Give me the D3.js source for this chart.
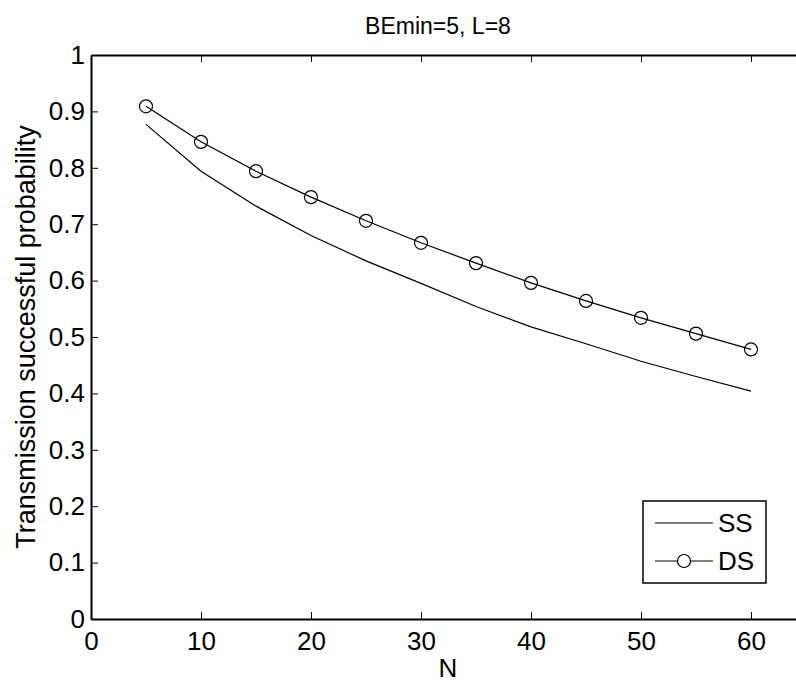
<!DOCTYPE html>
<html>
<head>
<meta charset="utf-8">
<script src="https://cdn.jsdelivr.net/npm/d3@7"></script>
<style>
  body { margin: 0; background: #fff; }
  svg text { font-family: "Liberation Sans", Arial, sans-serif; }
</style>
</head>
<body>
<div id="chart"></div>
<script>
'use strict';

// data
const nValues  = [5, 10, 15, 20, 25, 30, 35, 40, 45, 50, 55, 60]
const ssValues = [0.877, 0.794, 0.732, 0.680, 0.635, 0.595, 0.554, 0.518, 0.488, 0.457, 0.430, 0.404]
const dsValues = [0.909, 0.846, 0.794, 0.748, 0.706, 0.667, 0.631, 0.596, 0.564, 0.534, 0.506, 0.478]
const xTicks   = [0, 10, 20, 30, 40, 50, 60]
const yTicks   = [0, 0.1, 0.2, 0.3, 0.4, 0.5, 0.6, 0.7, 0.8, 0.9, 1]

const width    = 796
const height   = 682
const padLeft  = 91
const padRight = 806   // plot runs past the window edge
const padTop   = 55
const padBot   = 619
const tickLen  = 7
const fontSize = 26

var svg = d3.select('#chart').append('svg')
    .attr('width', width)
    .attr('height', height)

var x = d3.scaleLinear().domain([0, 65]).range([padLeft, padRight])
var y = d3.scaleLinear().domain([0, 1]).range([padBot, padTop])

// axes
var xAxis = svg.append('g')
    .attr('transform', 'translate(0,' + padBot + ')')
    .call(d3.axisBottom(x).tickValues(xTicks).tickSizeInner(-tickLen).tickSizeOuter(0).tickPadding(13).tickFormat(d3.format('d')))
var xTop = svg.append('g')
    .attr('transform', 'translate(0,' + padTop + ')')
    .call(d3.axisTop(x).tickValues(xTicks).tickSizeInner(-tickLen).tickSizeOuter(0).tickFormat(''))
var yAxis = svg.append('g')
    .attr('transform', 'translate(' + padLeft + ',0)')
    .call(d3.axisLeft(y).tickValues(yTicks).tickSizeInner(-tickLen).tickSizeOuter(0).tickPadding(6).tickFormat(function(d){return String(+d.toFixed(1))}))

svg.selectAll('.domain').attr('stroke', '#000').attr('stroke-width', 2)
svg.selectAll('.tick line').attr('stroke', '#000').attr('stroke-width', 1)
svg.selectAll('.tick text').attr('font-size', fontSize).attr('fill', '#000')
    .style('font-family', '"Liberation Sans", Arial, sans-serif')
xAxis.selectAll('.tick text').attr('dy', '0.71em')

// lines
var line = d3.line().x(function(d){return x(d[0])}).y(function(d){return y(d[1])})

svg.append('path')
    .datum(d3.zip(nValues, ssValues))
    .attr('d', line)
    .attr('fill', 'none').attr('stroke', '#000').attr('stroke-width', 1.2)

svg.append('path')
    .datum(d3.zip(nValues, dsValues))
    .attr('d', line)
    .attr('fill', 'none').attr('stroke', '#000').attr('stroke-width', 1.2)

svg.append('g').selectAll('circle')
    .data(d3.zip(nValues, dsValues))
    .enter().append('circle')
    .attr('cx', function(d){return x(d[0])})
    .attr('cy', function(d){return y(d[1])})
    .attr('r', 6.5)
    .attr('fill', 'none').attr('stroke', '#000').attr('stroke-width', 1.2)

// title and labels
svg.append('text')
    .attr('x', 438).attr('y', 34)
    .attr('text-anchor', 'middle').attr('font-size', 23)
    .text('BEmin=5, L=8')

svg.append('text')
    .attr('x', 448).attr('y', 677)
    .attr('text-anchor', 'middle').attr('font-size', fontSize)
    .text('N')

svg.append('text')
    .attr('transform', 'translate(35,' + ((padTop + padBot) / 2) + ') rotate(-90)')
    .attr('text-anchor', 'middle').attr('font-size', 27)
    .text('Transmission successful probability')

// legend
var legend = svg.append('g')
legend.append('rect')
    .attr('x', 643).attr('y', 501).attr('width', 123).attr('height', 82)
    .attr('fill', '#fff').attr('stroke', '#000').attr('stroke-width', 1.5)
legend.append('line')
    .attr('x1', 655).attr('x2', 713).attr('y1', 523).attr('y2', 523)
    .attr('stroke', '#000').attr('stroke-width', 1.2)
legend.append('line')
    .attr('x1', 655).attr('x2', 713).attr('y1', 561).attr('y2', 561)
    .attr('stroke', '#000').attr('stroke-width', 1.2)
legend.append('circle')
    .attr('cx', 684).attr('cy', 561).attr('r', 6.5)
    .attr('fill', '#fff').attr('stroke', '#000').attr('stroke-width', 1.2)
legend.append('text').attr('x', 718).attr('y', 532).attr('font-size', fontSize).text('SS')
legend.append('text').attr('x', 718).attr('y', 570).attr('font-size', fontSize).text('DS')
</script>
</body>
</html>
